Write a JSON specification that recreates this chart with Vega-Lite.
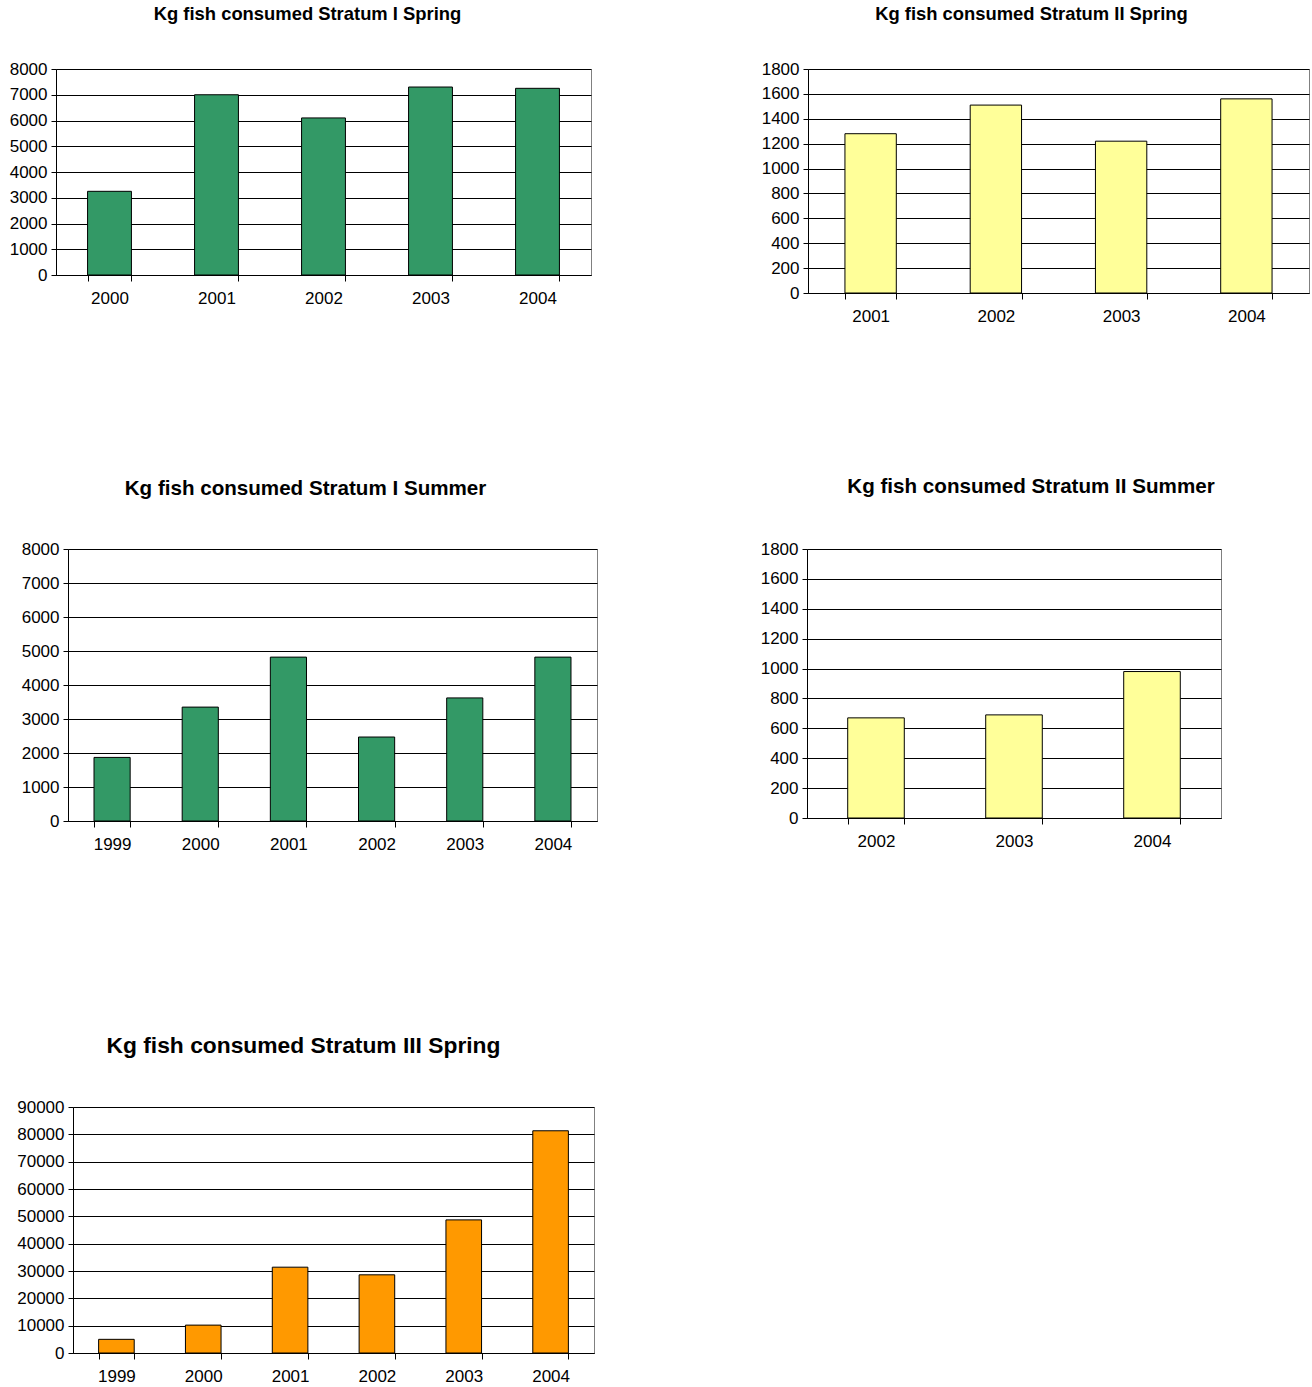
{
  "$schema": "https://vega.github.io/schema/vega-lite/v6.json",
  "padding": {"left": 0, "top": 4, "right": 0, "bottom": 0},
  "autosize": {"type": "pad"},
  "background": "white",
  "datasets": {
    "s1sp": [{"year": "2000", "kg": 3250}, {"year": "2001", "kg": 7000}, {"year": "2002", "kg": 6100}, {"year": "2003", "kg": 7300}, {"year": "2004", "kg": 7250}],
    "s2sp": [{"year": "2001", "kg": 1280}, {"year": "2002", "kg": 1510}, {"year": "2003", "kg": 1220}, {"year": "2004", "kg": 1560}],
    "s1su": [{"year": "1999", "kg": 1870}, {"year": "2000", "kg": 3350}, {"year": "2001", "kg": 4820}, {"year": "2002", "kg": 2470}, {"year": "2003", "kg": 3620}, {"year": "2004", "kg": 4820}],
    "s2su": [{"year": "2002", "kg": 670}, {"year": "2003", "kg": 690}, {"year": "2004", "kg": 980}],
    "s3sp": [{"year": "1999", "kg": 5000}, {"year": "2000", "kg": 10200}, {"year": "2001", "kg": 31400}, {"year": "2002", "kg": 28600}, {"year": "2003", "kg": 48700}, {"year": "2004", "kg": 81300}],
    "none": []
  },
  "vconcat": [
    {
      "vconcat": [
        {
          "hconcat": [
            {"data": {"name": "none"}, "width": 1, "height": 1, "view": {"stroke": null}, "mark": "point", "encoding": {}},
            {
              "hconcat": [
                {
                  "title": {"text": "Kg fish consumed Stratum I Spring", "fontSize": 18.4, "offset": 37, "dx": -16},
                  "data": {"name": "s1sp"},
                  "width": 535, "height": 206,
                  "mark": {"type": "bar", "color": "#339966"},
                  "encoding": {
                    "x": {"field": "year", "type": "nominal", "title": null, "scale": {"paddingInner": 0.59, "paddingOuter": 0.295}, "axis": {"labelAngle": 0, "tickBand": "extent", "tickSize": 6, "labelPadding": 9, "grid": false}},
                    "y": {"field": "kg", "type": "quantitative", "title": null, "scale": {"domain": [0, 8000], "nice": false}, "axis": {"values": [0,1000,2000,3000,4000,5000,6000,7000,8000], "format": "d", "tickSize": 5, "labelPadding": 4, "minExtent": 54, "grid": true}}
                  }
                },
                {
                  "title": {"text": "Kg fish consumed Stratum II Spring", "fontSize": 18.4, "offset": 37, "dx": -27},
                  "data": {"name": "s2sp"},
                  "width": 501, "height": 224,
                  "mark": {"type": "bar", "color": "#FFFF99"},
                  "encoding": {
                    "x": {"field": "year", "type": "nominal", "title": null, "scale": {"paddingInner": 0.59, "paddingOuter": 0.295}, "axis": {"labelAngle": 0, "tickBand": "extent", "tickSize": 6, "labelPadding": 9, "grid": false}},
                    "y": {"field": "kg", "type": "quantitative", "title": null, "scale": {"domain": [0, 1800], "nice": false}, "axis": {"values": [0,200,400,600,800,1000,1200,1400,1600,1800], "format": "d", "tickSize": 5, "labelPadding": 4, "minExtent": 55, "grid": true}}
                  }
                }
              ],
              "spacing": 160,
              "align": "none"
            }
          ],
          "spacing": 0,
          "align": "none"
        },
        {
          "hconcat": [
            {"data": {"name": "none"}, "width": 1, "height": 1, "view": {"stroke": null}, "mark": "point", "encoding": {}},
            {
              "hconcat": [
                {
                  "title": {"text": "Kg fish consumed Stratum I Summer", "fontSize": 20.6, "offset": 40, "dx": -27},
                  "data": {"name": "s1su"},
                  "width": 529, "height": 272,
                  "mark": {"type": "bar", "color": "#339966"},
                  "encoding": {
                    "x": {"field": "year", "type": "nominal", "title": null, "scale": {"paddingInner": 0.59, "paddingOuter": 0.295}, "axis": {"labelAngle": 0, "tickBand": "extent", "tickSize": 6, "labelPadding": 9, "grid": false}},
                    "y": {"field": "kg", "type": "quantitative", "title": null, "scale": {"domain": [0, 8000], "nice": false}, "axis": {"values": [0,1000,2000,3000,4000,5000,6000,7000,8000], "format": "d", "tickSize": 5, "labelPadding": 4, "minExtent": 66, "grid": true}}
                  }
                },
                {
                  "title": {"text": "Kg fish consumed Stratum II Summer", "fontSize": 20.6, "offset": 42, "dx": 17},
                  "data": {"name": "s2su"},
                  "width": 414, "height": 269,
                  "mark": {"type": "bar", "color": "#FFFF99"},
                  "encoding": {
                    "x": {"field": "year", "type": "nominal", "title": null, "scale": {"paddingInner": 0.59, "paddingOuter": 0.295}, "axis": {"labelAngle": 0, "tickBand": "extent", "tickSize": 6, "labelPadding": 9, "grid": false}},
                    "y": {"field": "kg", "type": "quantitative", "title": null, "scale": {"domain": [0, 1800], "nice": false}, "axis": {"values": [0,200,400,600,800,1000,1200,1400,1600,1800], "format": "d", "tickSize": 5, "labelPadding": 4, "minExtent": 55, "grid": true}}
                  }
                }
              ],
              "spacing": 153,
              "align": "none"
            }
          ],
          "spacing": 0,
          "align": "none"
        }
      ],
      "spacing": 151,
      "align": "none"
    },
    {
      "hconcat": [
        {"data": {"name": "none"}, "width": 1, "height": 1, "view": {"stroke": null}, "mark": "point", "encoding": {}},
        {
          "title": {"text": "Kg fish consumed Stratum III Spring", "fontSize": 22.8, "offset": 40, "dx": -30},
          "data": {"name": "s3sp"},
          "width": 521, "height": 246,
          "mark": {"type": "bar", "color": "#FF9900"},
          "encoding": {
            "x": {"field": "year", "type": "nominal", "title": null, "scale": {"paddingInner": 0.59, "paddingOuter": 0.295}, "axis": {"labelAngle": 0, "tickBand": "extent", "tickSize": 6, "labelPadding": 9, "grid": false}},
            "y": {"field": "kg", "type": "quantitative", "title": null, "scale": {"domain": [0, 90000], "nice": false}, "axis": {"values": [0,10000,20000,30000,40000,50000,60000,70000,80000,90000], "format": "d", "tickSize": 5, "labelPadding": 4, "minExtent": 71, "grid": true}}
          }
        }
      ],
      "spacing": 0,
      "align": "none"
    }
  ],
  "spacing": 181,
  "align": "none",
  "config": {
    "view": {"stroke": "#808080", "strokeWidth": 1},
    "axis": {"labelFont": "Liberation Sans", "labelFontSize": 17, "labelColor": "#000000", "domainColor": "#000000", "tickColor": "#000000", "gridColor": "#000000", "gridOpacity": 1, "domainWidth": 1, "tickWidth": 1},
    "title": {"font": "Liberation Sans", "fontWeight": "bold", "color": "#000000", "anchor": "middle", "baseline": "middle"},
    "bar": {"stroke": "#000000", "strokeWidth": 1}
  }
}
